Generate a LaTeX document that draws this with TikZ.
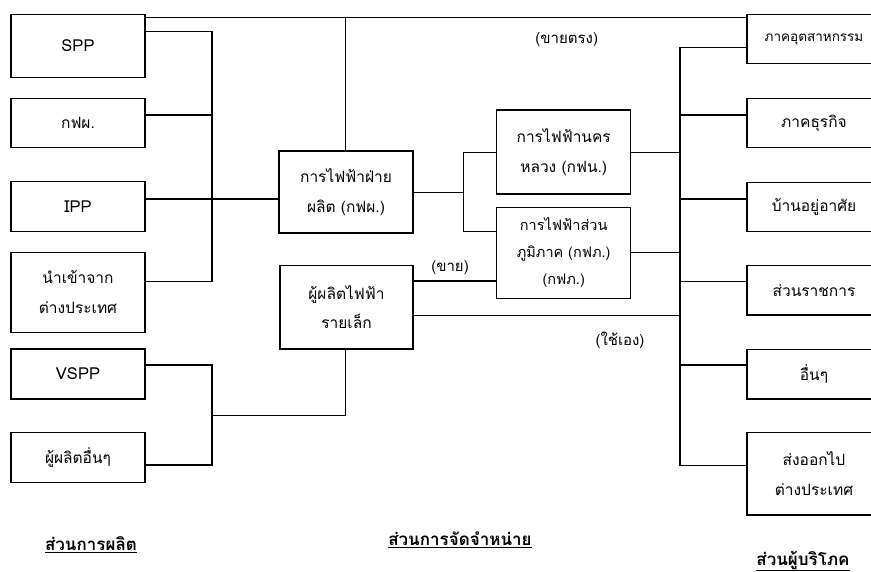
\documentclass[tikz,border=0pt]{standalone}
\usepackage{fontspec}
\setmainfont[Script=Thai]{Loma}
\newfontfamily\thaifont[Script=Thai]{Loma}
\begin{document}
\begin{tikzpicture}[x=1pt,y=-1pt,
  box/.style={draw,line width=1.3pt,align=center,inner sep=2pt,
    font=\thaifont\fontsize{15.5}{29.5}\selectfont},
  latin/.style={font=\thaifont\fontsize{16.5}{20}\selectfont},
  lbl/.style={font=\thaifont\fontsize{15}{17}\selectfont,inner sep=1pt},
  sect/.style={font=\thaifont\bfseries\fontsize{17}{20}\selectfont,inner sep=1pt},
  con/.style={line width=1.3pt}]
\useasboundingbox (0,0) rectangle (871,571);
\clip (0,0) rectangle (871,571);
% left column
\node[box,latin,minimum width=134pt,minimum height=63.4pt] (spp) at (78,46) {SPP};
\node[box,minimum width=134pt,minimum height=49.4pt] (kfp) at (78,123) {กฟผ.};
\node[box,latin,minimum width=134pt,minimum height=50pt] (ipp) at (78,206.7) {IPP};
\node[box,minimum width=134pt,minimum height=80pt] (imp) at (78,292.3) {นำเข้าจาก\\ต่างประเทศ};
\node[box,latin,minimum width=134pt,minimum height=50pt] (vspp) at (78,374) {VSPP};
\node[box,minimum width=134pt,minimum height=50.4pt] (oth) at (78,457.5) {ผู้ผลิตอื่นๆ};
% middle
\node[box,minimum width=134pt,minimum height=82pt] (egat) at (346,192) {การไฟฟ้าฝ่าย\\ผลิต (กฟผ.)};
\node[box,minimum width=133pt,minimum height=83.3pt] (small) at (346.5,307.3) {ผู้ผลิตไฟฟ้า\\รายเล็ก};
\node[box,minimum width=134pt,minimum height=84pt] (mea) at (563.7,152) {การไฟฟ้านคร\\หลวง (กฟน.)};
\node[box,minimum width=134pt,minimum height=91pt,font=\thaifont\fontsize{14.5}{27}\selectfont] (pea) at (563.7,252.8) {การไฟฟ้าส่วน\\ภูมิภาค (กฟภ.)\\(กฟภ.)};
% right column
\node[box,minimum width=134pt,minimum height=49pt,font=\thaifont\fontsize{13.5}{16}\selectfont] (ind) at (814,38.8) {ภาคอุตสาหกรรม};
\node[box,minimum width=134pt,minimum height=49.4pt] (bus) at (814,123) {ภาคธุรกิจ};
\node[box,minimum width=134pt,minimum height=49.4pt] (res) at (814,207) {บ้านอยู่อาศัย};
\node[box,minimum width=134pt,minimum height=49.3pt] (gov) at (814,290.3) {ส่วนราชการ};
\node[box,minimum width=134pt,minimum height=49.7pt] (etc) at (814,374.2) {อื่นๆ};
\node[box,minimum width=134pt,minimum height=82.7pt] (exp) at (814,473.7) {ส่งออกไป\\ต่างประเทศ};
% bus coordinates
\coordinate (ytop) at (0,17.7);
\coordinate (lbt) at (212,31.7);
\coordinate (lbb) at (212,281.7);
\coordinate (egt) at (345.7,17.7);
\coordinate (mbt) at (463.3,152.3);
\coordinate (mbb) at (463.3,231.7);
\coordinate (rbt) at (680,47.7);
\coordinate (rbb) at (680,465.7);
\coordinate (sb) at (345.7,415.7);
\coordinate (lb2t) at (212,365);
\coordinate (lb2b) at (212,465);
% top line
\draw[con] (spp.east |- ytop) -- (ind.west |- ytop);
\draw[con] (egt) -- (egt |- egat.north);
% left bus
\draw[con] (spp.east |- lbt) -- (lbt) -- (lbb) -- (imp.east |- lbb);
\draw[con] (kfp.east |- 0,115) -- (212,115);
\draw[con] (ipp.east |- 0,199) -- (egat.west |- 0,199);
% middle bus
\draw[con] (egat.east |- 0,192.7) -- (463.3,192.7);
\draw[con] (mea.west |- mbt) -- (mbt) -- (mbb) -- (pea.west |- mbb);
\draw[con] (mea.east |- 0,152.3) -- (680,152.3);
\draw[con] (pea.east |- 0,252.3) -- (680,252.3);
% right bus
\draw[con] (ind.west |- rbt) -- (rbt) -- (rbb) -- (exp.west |- rbb);
\draw[con] (bus.west |- 0,115) -- (680,115);
\draw[con] (res.west |- 0,199) -- (680,199);
\draw[con] (gov.west |- 0,281.7) -- (680,281.7);
\draw[con] (etc.west |- 0,365) -- (680,365);
% small producers
\draw[con] (small.east |- 0,281) -- (pea.west |- 0,281);
\draw[con] (small.east |- 0,315.7) -- (680,315.7);
\draw[con] (small.south -| sb) -- (sb) -- (212,415.7);
\draw[con] (vspp.east |- lb2t) -- (lb2t) -- (lb2b) -- (oth.east |- lb2b);
% labels
\node[lbl] (l1) at (566.7,40) {(ขายตรง)};
\node[lbl] (l2) at (450,268) {(ขาย)};
\node[lbl] (l3) at (620,340) {(ใช้เอง)};
\node[sect] (s1) at (91,545) {\underline{ส่วนการผลิต}};
\node[sect] (s2) at (460,540) {\underline{ส่วนการจัดจำหน่าย}};
\node[sect] (s3) at (803,561) {\underline{ส่วนผู้บริโภค}};
\end{tikzpicture}
\end{document}
